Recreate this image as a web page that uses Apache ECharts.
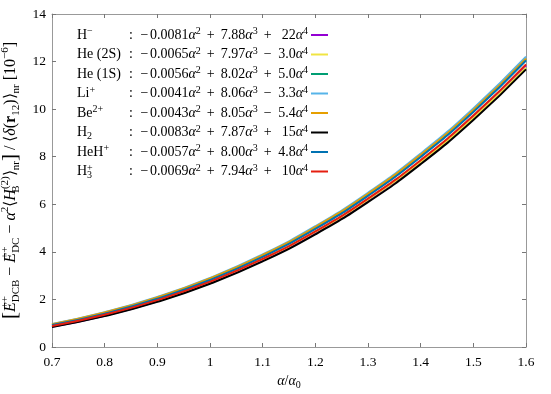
<!DOCTYPE html>
<html><head><meta charset="utf-8">
<script src="https://cdn.jsdelivr.net/npm/echarts@6/dist/echarts.min.js"></script>
<style>html,body{margin:0;padding:0;background:#fff}#c{width:551px;height:394px}</style>
</head><body><div id="c"></div>
<script>
// alpha / alpha0 sample positions
const xValues = [0.7, 0.8, 0.9, 1.0, 1.1, 1.2, 1.3, 1.4, 1.5, 1.6];
// curve values (units 10^-6)
const hMinus  = [0.854, 1.317, 1.924, 2.693, 3.645, 4.800, 6.177, 7.797, 9.680, 11.847];
const he2S    = [0.891, 1.361, 1.972, 2.742, 3.691, 4.836, 6.195, 7.787, 9.631, 11.744];
const he1S    = [0.926, 1.411, 2.040, 2.832, 3.808, 4.985, 6.383, 8.022, 9.919, 12.095];
const liPlus  = [0.965, 1.460, 2.100, 2.904, 3.891, 5.078, 6.485, 8.130, 10.032, 12.209];
const be2Plus = [0.957, 1.449, 2.085, 2.884, 3.864, 5.044, 6.442, 8.076, 9.965, 12.126];
const h2      = [0.843, 1.300, 1.899, 2.659, 3.598, 4.736, 6.093, 7.689, 9.542, 11.674];
const hehPlus = [0.921, 1.403, 2.029, 2.819, 3.790, 4.963, 6.356, 7.988, 9.878, 12.046];
const h3Plus  = [0.885, 1.356, 1.970, 2.746, 3.704, 4.861, 6.239, 7.855, 9.730, 11.883];

const seriesNames = ['H−', 'He (2S)', 'He (1S)', 'Li+', 'Be2+', 'H2', 'HeH+', 'H3+'];
const seriesColors = ['#9400d3', '#f0e442', '#009e73', '#56b4e9', '#e69f00', '#000000', '#0072b2', '#e51e10'];
const nameLabels = ['{m|H}{sp|−}', '{m|He (2S)}', '{m|He (1S)}', '{m|Li}{sp|+}', '{m|Be}{sp|2+}', '{m|H}{sb|2}', '{m|HeH}{sp|+}', '{m|H}{sp0|+}{sb|3}'];
const fitA = ['0.0081', '0.0065', '0.0056', '0.0041', '0.0043', '0.0083', '0.0057', '0.0069'];
const fitB = ['7.88', '7.97', '8.02', '8.06', '8.05', '7.87', '8.00', '7.94'];
const fitSign = ['+', '−', '+', '−', '−', '+', '+', '+'];
const fitC = ['22', '3.0', '5.0', '3.3', '5.4', '15', '4.8', '10'];

const allValues = [hMinus, he2S, he1S, liPlus, be2Plus, h2, hehPlus, h3Plus];

const F = 'Liberation Serif';
const FS = 14;
function richSet(fs, sfs) {
  return {
    m:   {fontFamily: F, fontSize: fs, lineHeight: fs + 3, color: '#000'},
    i:   {fontFamily: F, fontSize: fs, lineHeight: fs + 3, color: '#000', fontStyle: 'italic'},
    b:   {fontFamily: F, fontSize: fs, lineHeight: fs + 3, color: '#000', fontWeight: 'bold'},
    bk:  {fontFamily: F, fontSize: fs + 5, lineHeight: fs + 6, color: '#000'},
    op:  {fontFamily: F, fontSize: fs, lineHeight: fs + 3, color: '#000', width: 20, align: 'center'},
    mn:  {fontFamily: F, fontSize: fs, lineHeight: fs + 3, color: '#000', width: 11, align: 'center'},
    c:   {fontFamily: F, fontSize: fs, lineHeight: fs + 3, color: '#000', width: 18, align: 'right'},
    sp:  {fontFamily: F, fontSize: sfs, lineHeight: sfs + 1, color: '#000', verticalAlign: 'top'},
    sp0: {fontFamily: F, fontSize: sfs, lineHeight: sfs + 1, color: '#000', verticalAlign: 'top', width: 0, align: 'left'},
    sb:  {fontFamily: F, fontSize: sfs, lineHeight: sfs, color: '#000', verticalAlign: 'bottom'},
    sb0: {fontFamily: F, fontSize: sfs, lineHeight: sfs, color: '#000', verticalAlign: 'bottom', width: 0, align: 'left'}
  };
}
const rich = richSet(FS, 10);
const richY = richSet(16, 11);

const yName = '{bk|[}{i|E}{sp0|++}{sb|DCB}{m| − }{i|E}{sp0|++}{sb|DC}{m| − }{i|α}{sp|2}{m|⟨}{i|H}{sb0|B}{sp|(2)}{m|⟩}{sb|nr}{bk|]}{m| / ⟨}{i|δ}{m|(}{b|r}{sb|12}{m|)⟩}{sb|nr}{m| [10}{sp|−6}{m|]}';
const xName = '{i|α}{m|/}{i|α}{sb|0}';

const rowTop = 35, rowStep = 19.5;
const graphics = [];
seriesNames.forEach((n, k) => {
  const y = rowTop + rowStep * k;
  graphics.push({type: 'text', x: 77, y: y, style: {text: nameLabels[k], rich: rich, align: 'left', verticalAlign: 'middle', textAlign: 'left', textVerticalAlign: 'middle'}});
  graphics.push({type: 'text', x: 129, y: y, style: {text: '{m|:}', rich: rich, align: 'left', verticalAlign: 'middle', textAlign: 'left', textVerticalAlign: 'middle'}});
  const t = '{mn|−}{m|' + fitA[k] + '}{i|α}{sp|2}{op|+}{m|' + fitB[k] + '}{i|α}{sp|3}{op|' + fitSign[k] + '}{c|' + fitC[k] + '}{i|α}{sp|4}';
  graphics.push({type: 'text', x: 308, y: y, style: {text: t, rich: rich, align: 'right', verticalAlign: 'middle', textAlign: 'right', textVerticalAlign: 'middle'}});
});

const axisCommon = {
  type: 'value',
  axisLine: {show: true, onZero: false, lineStyle: {color: '#999', width: 1}},
  axisTick: {show: true, inside: true, length: 4, lineStyle: {color: '#777'}},
  splitLine: {show: false}
};

const chart = echarts.init(document.getElementById('c'), null, {renderer: 'canvas'});
chart.setOption({
  animation: false,
  backgroundColor: '#fff',
  grid: {left: 52, right: 25, top: 14, bottom: 47, containLabel: false, outerBoundsMode: 'none'},
  xAxis: [
    Object.assign({}, axisCommon, {position: 'bottom', min: 0.7, max: 1.6, interval: 0.1,
      axisLabel: {margin: 8, color: '#000', fontFamily: F, fontSize: 13.5},
      name: xName, nameLocation: 'middle', nameGap: 26, nameTextStyle: {rich: rich}}),
    Object.assign({}, axisCommon, {position: 'top', min: 0.7, max: 1.6, interval: 0.1, axisLabel: {show: false}})
  ],
  yAxis: [
    Object.assign({}, axisCommon, {position: 'left', min: 0, max: 14, interval: 2,
      axisLabel: {margin: 6, color: '#000', fontFamily: F, fontSize: 13.5},
      name: yName, nameLocation: 'middle', nameRotate: 90, nameGap: 27, nameTextStyle: {rich: richY}}),
    Object.assign({}, axisCommon, {position: 'right', min: 0, max: 14, interval: 2, axisLabel: {show: false}})
  ],
  legend: {
    orient: 'vertical', left: 311, top: rowTop - 1, padding: 0, itemWidth: 17, itemHeight: 2, itemGap: rowStep - 2,
    icon: 'rect', selectedMode: false, formatter: function () { return ''; },
    textStyle: {fontSize: 2, lineHeight: 2},
    data: seriesNames
  },
  graphic: graphics,
  series: seriesNames.map((n, k) => ({
    name: n, type: 'line', xAxisIndex: 0, yAxisIndex: 0,
    data: xValues.map((x, j) => [x, allValues[k][j]]),
    smooth: true, symbol: 'none', color: seriesColors[k],
    lineStyle: {width: 2, color: seriesColors[k]}
  }))
});
</script></body></html>
